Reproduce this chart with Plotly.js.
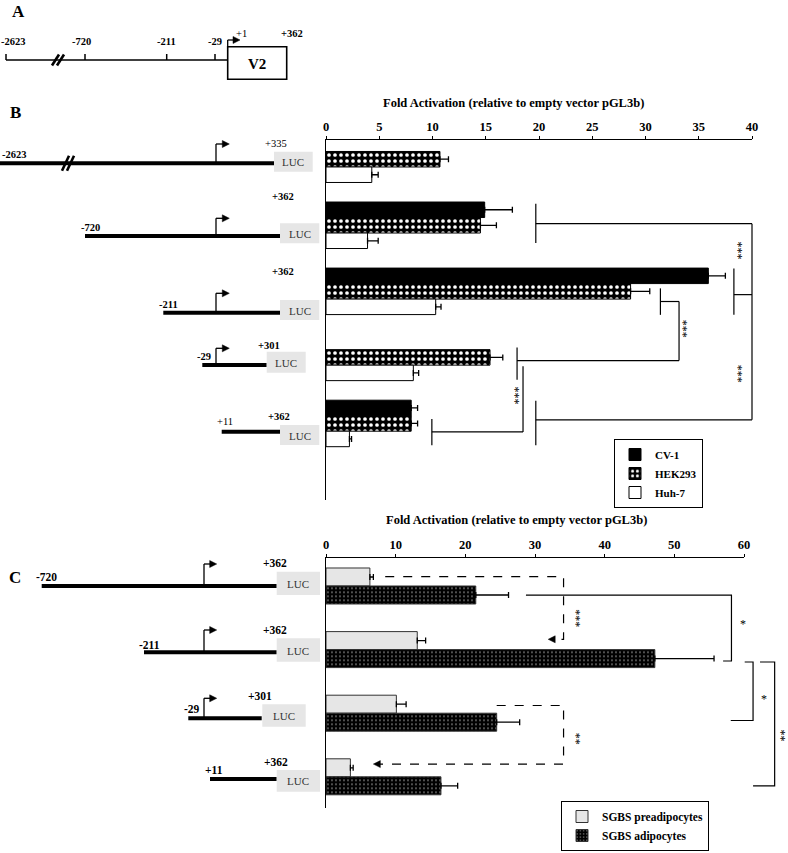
<!DOCTYPE html>
<html><head><meta charset="utf-8">
<script src="https://cdn.plot.ly/plotly-3.0.1.min.js"></script>
<style>body{margin:0;background:#fff}</style>
</head><body>
<div id="chart" style="width:788px;height:853px"></div>
<script>
// ---------------- DATA ----------------
// Panel B: fold activation (relative to empty vector pGL3b)
const constructsB = ["-2623/+335", "-720/+362", "-211/+362", "-29/+301", "+11/+362"];
const cv1Values    = [null, 14.9, 35.9, null, 8.0];
const cv1Errors    = [null, 2.6, 1.6, null, 0.6];
const hek293Values = [10.7, 14.5, 28.6, 15.4, 8.0];
const hek293Errors = [0.8, 1.5, 1.8, 1.2, 0.6];
const huh7Values   = [4.3, 3.9, 10.3, 8.2, 2.2];
const huh7Errors   = [0.6, 1.0, 0.5, 0.5, 0.2];
const ticksB = [0, 5, 10, 15, 20, 25, 30, 35, 40];

// Panel C
const constructsC = ["-720/+362", "-211/+362", "-29/+301", "+11/+362"];
const preadipoValues = [6.3, 13.1, 10.1, 3.5];
const preadipoErrors = [0.5, 1.2, 1.4, 0.4];
const adipoValues    = [21.5, 47.2, 24.5, 16.5];
const adipoErrors    = [4.7, 8.5, 3.3, 2.4];
const ticksC = [0, 10, 20, 30, 40, 50, 60];

const titleText = "Fold Activation (relative to empty vector pGL3b)";

// ---------------- GEOMETRY ----------------
const W = 788, H = 853;
const PX = x => x / W, PY = y => 1 - y / H;
const SERIF = 'Liberation Serif, Times New Roman, serif';

const GB = {left: 326, right: 752, top: 140, bottom: 500, xmax: 40, iTop: -0.291, iBot: 5.159};
const GC = {left: 326, right: 744, top: 558.3, bottom: 808.3, xmax: 60, iTop: -0.4355, iBot: 3.4953};
const bx = v => GB.left + v * (GB.right - GB.left) / GB.xmax;
const by = i => GB.top + (i - GB.iTop) * (GB.bottom - GB.top) / (GB.iBot - GB.iTop);
const cx = v => GC.left + v * (GC.right - GC.left) / GC.xmax;
const cy = i => GC.top + (i - GC.iTop) * (GC.bottom - GC.top) / (GC.iBot - GC.iTop);

const shapes = [], annotations = [];
function seg(x0, y0, x1, y1, w = 1.2, dash = 'solid') {
  shapes.push({type: 'line', xref: 'paper', yref: 'paper', x0: PX(x0), y0: PY(y0), x1: PX(x1), y1: PY(y1),
    line: {color: 'black', width: w, dash: dash}});
}
function path(pts, w = 1.2, dash = 'solid', fill = null) {
  const d = pts.map((p, k) => (k ? 'L' : 'M') + PX(p[0]).toFixed(5) + ',' + PY(p[1]).toFixed(5)).join(' ') + (fill ? ' Z' : '');
  shapes.push({type: 'path', xref: 'paper', yref: 'paper', path: d,
    line: {color: 'black', width: fill ? 0.5 : w, dash: dash}, fillcolor: fill || 'rgba(0,0,0,0)'});
}
function rect(x0, y0, x1, y1, fill, lw = 0) {
  shapes.push({type: 'rect', xref: 'paper', yref: 'paper', x0: PX(x0), y0: PY(y1), x1: PX(x1), y1: PY(y0),
    fillcolor: fill, line: {color: 'black', width: lw}});
}
function txt(x, y, t, size, bold = true, extra = {}) {
  annotations.push(Object.assign({xref: 'paper', yref: 'paper', x: PX(x), y: PY(y),
    text: bold ? '<b>' + t + '</b>' : t, showarrow: false, xanchor: 'center', yanchor: 'middle',
    font: {family: SERIF, size: size, color: 'black'}}, extra));
}
function promoter(x, yLine, yTop, tipX) {
  seg(x, yLine, x, yTop, 1.3);
  seg(x, yTop, tipX - 6, yTop, 1.3);
  path([[tipX - 7, yTop - 3.5], [tipX, yTop], [tipX - 7, yTop + 3.5]], 1, 'solid', 'black');
}
function brk(xc, yc, h) {
  seg(xc - 6, yc + h, xc + 1, yc - h, 2.6);
  seg(xc - 1, yc + h, xc + 6, yc - h, 2.6);
}
function luc(x0, y0, x1, y1) {
  rect(x0, y0, x1, y1, '#e6e6e6');
  txt((x0 + x1) / 2, (y0 + y1) / 2 + 0.5, 'LUC', 11, false, {font: {family: SERIF, size: 11, color: '#333'}});
}

// ---------------- PANEL A ----------------
txt(18, 11, 'A', 17);
seg(6, 60, 227.7, 60, 1.5);
[6, 85, 166.7, 215].forEach(x => seg(x, 54, x, 60, 1.5));
brk(58, 60, 5.5);
rect(227.7, 46.7, 286.7, 79.3, 'white', 1.6);
txt(257, 63.5, 'V2', 15);
promoter(227.7, 46.7, 40, 240);
txt(13, 42, '-2623', 10.5);
txt(81, 42, '-720', 10.5);
txt(166.7, 42, '-211', 10.5);
txt(215.5, 42, '-29', 10.5);
txt(241, 33.5, '+1', 10.5, false);
txt(292, 33.5, '+362', 10.5);

// ---------------- PANEL B constructs ----------------
txt(15, 112, 'B', 17);
seg(0, 163.3, 274, 163.3, 4); brk(68, 163.3, 7.5); promoter(216, 163.3, 144, 229.3);
luc(274, 151.7, 312.7, 171.7); txt(14, 155, '-2623', 10.5); txt(276, 143.3, '+335', 10.5, false);
seg(85, 236, 280, 236, 4); promoter(216, 236, 218.3, 229.3);
luc(280, 223.3, 319.3, 243.3); txt(90, 227.7, '-720', 10.5); txt(282.5, 196, '+362', 10.5);
seg(163.3, 312.7, 280, 312.7, 4); promoter(216, 312.7, 293.3, 229.3);
luc(280, 300, 319.3, 320); txt(168, 304, '-211', 10.5); txt(282.5, 271.7, '+362', 10.5);
seg(202.3, 365, 266.7, 365, 4); promoter(216, 365, 348.3, 229.3);
luc(266.7, 351.7, 305.7, 372.7); txt(204, 356.7, '-29', 10.5); txt(269, 345, '+301', 10.5);
seg(221.7, 431.7, 280, 431.7, 4);
luc(280, 425, 319.3, 445); txt(224.7, 421.7, '+11', 10.5, false); txt(279, 416, '+362', 10.5);

txt(513, 103, titleText, 12.5);

// Panel B significance brackets (value, category-index)
const sB = (v0, i0, v1, i1) => seg(bx(v0), by(i0), bx(v1), by(i1), 1.2);
sB(19.7, 0.675, 19.7, 1.27);
sB(19.7, 0.975, 40, 0.975);
sB(40, 0.975, 40, 3.945);
sB(19.7, 3.945, 40, 3.945);
sB(19.7, 3.656, 19.7, 4.33);
sB(38.3, 2.05, 40, 2.05);
sB(38.3, 1.656, 38.3, 2.356);
sB(31.4, 1.955, 31.4, 2.356);
sB(31.4, 2.154, 33.15, 2.154);
sB(33.15, 2.154, 33.15, 3.049);
sB(17.94, 3.049, 33.15, 3.049);
sB(17.94, 2.85, 17.94, 3.339);
sB(18.5, 3.135, 18.5, 4.129);
sB(9.94, 4.129, 18.5, 4.129);
sB(9.94, 3.934, 9.94, 4.33);
const starB = (v, i, t) => txt(bx(v), by(i), t, 12, false, {textangle: 90});
starB(38.7, 1.385, '***'); starB(38.7, 3.25, '***'); starB(33.6, 2.563, '***'); starB(17.7, 3.57, '***');

// ---------------- PANEL C constructs ----------------
txt(15, 577, 'C', 17);
seg(41.7, 586, 276.7, 586, 4); promoter(204, 586, 564, 216.7);
luc(276.7, 571.7, 320, 595); txt(46.7, 576.7, '-720', 11.5); txt(275, 563.3, '+362', 11.5);
seg(144, 652.3, 276.7, 652.3, 4); promoter(204, 652.3, 630, 216.7);
luc(276.7, 638.3, 320, 661.7); txt(149, 645, '-211', 11.5); txt(275, 630, '+362', 11.5);
seg(188.3, 718.3, 261.7, 718.3, 4); promoter(204, 718.3, 698.3, 216.7);
luc(262.3, 704.3, 305.7, 726.7); txt(192.3, 709, '-29', 11.5); txt(259.7, 696, '+301', 11.5);
seg(210, 779, 276.7, 779, 4);
luc(276.7, 770, 320, 791.7); txt(213.8, 770, '+11', 11.5); txt(275.8, 761.7, '+362', 11.5);

txt(516, 520, titleText, 12.5);

// Panel C brackets
const pC = (pts, dash) => path(pts.map(p => [cx(p[0]), cy(p[1])]), 1.2, dash);
pC([[8.5, -0.146], [34.1, -0.146], [34.1, 0.838], [32.7, 0.838]], 'dash');
path([[cx(32.9), cy(0.838) - 3.5], [cx(31.9), cy(0.838)], [cx(32.9), cy(0.838) + 3.5]], 1, 'solid', 'black');
pC([[28.7, 0.142], [58.2, 0.142], [58.2, 1.179], [57.0, 1.179]], 'solid');
pC([[60.1, 1.195], [61.3, 1.195], [61.3, 2.115], [58.1, 2.115]], 'solid');
pC([[62.3, 1.195], [64.4, 1.195], [64.4, 3.142], [61.3, 3.142]], 'solid');
pC([[24.5, 1.879], [34.1, 1.879], [34.1, 2.8], [7.6, 2.8]], 'dash');
path([[cx(7.8), cy(2.8) - 3.5], [cx(6.8), cy(2.8)], [cx(7.8), cy(2.8) + 3.5]], 1, 'solid', 'black');
const starC = (v, i, t, rot) => txt(cx(v), cy(i), t, 12, false, rot ? {textangle: 90} : {});
starC(35.9, 0.508, '***', true); starC(59.8, 0.602, '*', false); starC(62.9, 1.774, '*', false);
starC(65.3, 2.35, '**', true); starC(35.9, 2.403, '**', true);

// ---------------- TRACES ----------------
const zeros = a => a.map(() => 0);
const errX = (arr) => ({type: 'data', symmetric: false, array: arr, arrayminus: zeros(arr), color: 'black', thickness: 1.3, width: 3});
const wB = 0.2347, wC = 0.283;
const traces = [
  {type: 'bar', orientation: 'h', name: 'CV-1', y: constructsB, x: cv1Values, xaxis: 'x', yaxis: 'y',
   width: wB, offset: -1.5 * wB, marker: {color: 'black', line: {color: 'black', width: 1}},
   error_x: errX(cv1Errors), legend: 'legend'},
  {type: 'bar', orientation: 'h', name: 'HEK293', y: constructsB, x: hek293Values, xaxis: 'x', yaxis: 'y',
   width: wB, offset: -0.5 * wB,
   marker: {color: 'black', line: {color: 'black', width: 1},
            pattern: {shape: '.', bgcolor: 'black', fgcolor: 'white', size: 6, solidity: 0.3}},
   error_x: errX(hek293Errors), legend: 'legend'},
  {type: 'bar', orientation: 'h', name: 'Huh-7', y: constructsB, x: huh7Values, xaxis: 'x', yaxis: 'y',
   width: wB, offset: 0.5 * wB, marker: {color: 'white', line: {color: 'black', width: 1}},
   error_x: errX(huh7Errors), legend: 'legend'},
  {type: 'bar', orientation: 'h', name: 'SGBS preadipocytes', y: constructsC, x: preadipoValues, xaxis: 'x2', yaxis: 'y2',
   width: wC, offset: -wC, marker: {color: '#e6e6e6', line: {color: '#333', width: 1}},
   error_x: errX(preadipoErrors), legend: 'legend2'},
  {type: 'bar', orientation: 'h', name: 'SGBS adipocytes', y: constructsC, x: adipoValues, xaxis: 'x2', yaxis: 'y2',
   width: wC, offset: 0, marker: {color: 'black', line: {color: '#333', width: 1},
            pattern: {shape: '.', bgcolor: 'black', fgcolor: '#bbbbbb', size: 4, solidity: 0.12}},
   error_x: errX(adipoErrors), legend: 'legend2'}
];

const tickFont = {family: SERIF, size: 12.5, color: 'black', weight: 'bold'};
const legFont = {family: SERIF, size: 11, color: 'black', weight: 'bold'};
const legFont2 = {family: SERIF, size: 11.5, color: 'black', weight: 'bold'};
const layout = {
  width: W, height: H, margin: {l: 0, r: 0, t: 0, b: 0},
  paper_bgcolor: 'white', plot_bgcolor: 'rgba(0,0,0,0)',
  barmode: 'overlay', showlegend: true,
  xaxis: {domain: [PX(GB.left), PX(GB.right)], range: [0, GB.xmax], side: 'top', anchor: 'y',
          showline: true, linecolor: 'black', linewidth: 1.2, tickvals: ticksB, ticks: 'outside', ticklen: 3,
          tickcolor: 'black', tickfont: tickFont, showgrid: false, zeroline: false, fixedrange: true},
  yaxis: {domain: [PY(GB.bottom), PY(GB.top)], type: 'category', range: [GB.iBot, GB.iTop], anchor: 'x',
          showline: true, linecolor: 'black', linewidth: 1.2, showticklabels: false, ticks: '',
          showgrid: false, zeroline: false, fixedrange: true},
  xaxis2: {domain: [PX(GC.left), PX(GC.right)], range: [0, GC.xmax], side: 'top', anchor: 'y2',
          showline: true, linecolor: 'black', linewidth: 1.2, tickvals: ticksC, ticks: 'outside', ticklen: 3,
          tickcolor: 'black', tickfont: tickFont, showgrid: false, zeroline: false, fixedrange: true},
  yaxis2: {domain: [PY(GC.bottom), PY(GC.top)], type: 'category', range: [GC.iBot, GC.iTop], anchor: 'x2',
          showline: true, linecolor: 'black', linewidth: 1.2, showticklabels: false, ticks: '',
          showgrid: false, zeroline: false, fixedrange: true},
  legend: {x: PX(614), y: PY(439), xanchor: 'left', yanchor: 'top', bgcolor: 'white',
           bordercolor: 'black', borderwidth: 1, font: legFont, itemwidth: 30, traceorder: 'normal'},
  legend2: {x: PX(561), y: PY(801), xanchor: 'left', yanchor: 'top', bgcolor: 'white',
           bordercolor: 'black', borderwidth: 1, font: legFont2, itemwidth: 30, traceorder: 'normal'},
  shapes: shapes, annotations: annotations, hovermode: false
};
Plotly.newPlot('chart', traces, layout, {displayModeBar: false, staticPlot: true});
</script>
</body></html>
